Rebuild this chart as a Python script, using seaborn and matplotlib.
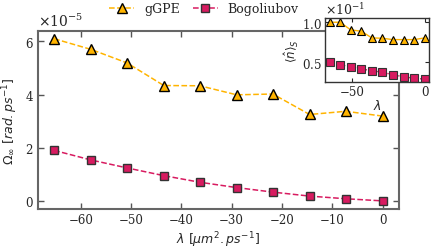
import matplotlib
matplotlib.use("Agg")
import matplotlib.pyplot as plt
import seaborn as sns
import pandas as pd

# === data ===
lam = [-65.3, -58.0, -50.8, -43.5, -36.3, -29.0, -21.8, -14.5, -7.3, 0.0]
omega_ggpe = [6.10e-5, 5.70e-5, 5.19e-5, 4.34e-5, 4.33e-5, 3.99e-5, 4.02e-5, 3.25e-5, 3.37e-5, 3.19e-5]
omega_bogo = [1.90e-5, 1.54e-5, 1.24e-5, 0.95e-5, 0.70e-5, 0.50e-5, 0.33e-5, 0.18e-5, 0.08e-5, 0.0]
n_ggpe = [0.100, 0.100, 0.0904, 0.0888, 0.0804, 0.0800, 0.0783, 0.0783, 0.0783, 0.0804]
n_bogo = [0.0500, 0.0471, 0.0442, 0.0418, 0.0393, 0.0376, 0.0343, 0.0320, 0.0300, 0.0290]

gold = "#FFB400"
crimson = "#D81B60"

df = pd.DataFrame({"lam": lam, "ggpe": omega_ggpe, "bogo": omega_bogo,
                   "n_ggpe": n_ggpe, "n_bogo": n_bogo})

sns.set_style("ticks")
plt.rcParams["font.family"] = ["DejaVu Serif"]
plt.rcParams["mathtext.fontset"] = "dejavusans"
plt.rcParams["font.size"] = 8.5

fig = plt.figure(figsize=(4.36, 2.53), dpi=100)
ax = fig.add_axes([0.0865, 0.17, 0.8285, 0.705])

sns.lineplot(data=df, x="lam", y="ggpe", ax=ax, color=gold, linestyle="--", lw=1.1,
             marker="^", markersize=6.5, markerfacecolor=gold, markeredgecolor="black",
             markeredgewidth=1.0, label="gGPE", legend=False)
sns.lineplot(data=df, x="lam", y="bogo", ax=ax, color=crimson, linestyle="--", lw=1.1,
             marker="s", markersize=6, markerfacecolor=crimson, markeredgecolor="#333333",
             markeredgewidth=1.0, label="Bogoliubov", legend=False)

ax.set_xlabel(r"$\lambda\ [\mu m^2.ps^{-1}]$", fontsize=9, labelpad=2)
ax.set_ylabel(r"$\Omega_\infty\ [rad.ps^{-1}]$", fontsize=9, labelpad=3)
ax.set_xticks([-60, -50, -40, -30, -20, -10, 0])
ax.set_yticks([0, 2e-5, 4e-5, 6e-5])
ax.ticklabel_format(axis="y", style="sci", scilimits=(0, 0), useMathText=True)
ax.yaxis.get_offset_text().set_fontsize(10)
ax.tick_params(direction="in", top=True, right=True, length=4, width=1, labelsize=8.5,
               color="#555555", pad=3)
for s in ax.spines.values():
    s.set_color("#666666")
    s.set_linewidth(1.5)

handles, labels = ax.get_legend_handles_labels()
fig.legend(handles, labels, loc="center", bbox_to_anchor=(204 / 436, 0.962), ncol=2,
           frameon=False, fontsize=9, handlelength=2.0, columnspacing=1.0, handletextpad=0.8)

# === inset ===
axin = fig.add_axes([0.745, 0.673, 0.24, 0.251])
sns.lineplot(data=df, x="lam", y="n_ggpe", ax=axin, color=gold, lw=1.0,
             marker="^", markersize=6, markerfacecolor=gold, markeredgecolor="black",
             markeredgewidth=0.8, legend=False)
sns.lineplot(data=df, x="lam", y="n_bogo", ax=axin, color=crimson, lw=1.0, linestyle=":",
             marker="s", markersize=5.5, markerfacecolor=crimson, markeredgecolor="#333333",
             markeredgewidth=0.8, legend=False)
axin.set_ylim(0.0257, 0.105)
axin.set_xticks([-50, 0])
axin.set_yticks([0.05, 0.1])
axin.ticklabel_format(axis="y", style="sci", scilimits=(0, 0), useMathText=True)
axin.yaxis.get_offset_text().set_fontsize(9)
axin.set_xlabel(r"$\lambda$", fontsize=9, labelpad=0)
axin.set_ylabel(r"$\langle\hat{n}\rangle_S$", fontsize=8.5, labelpad=1)
axin.tick_params(direction="in", top=True, right=True, length=3, width=0.8, labelsize=8.5,
                 pad=2)
for s in axin.spines.values():
    s.set_color("#333333")
    s.set_linewidth(1.0)

fig.savefig("out.png", dpi=100)
